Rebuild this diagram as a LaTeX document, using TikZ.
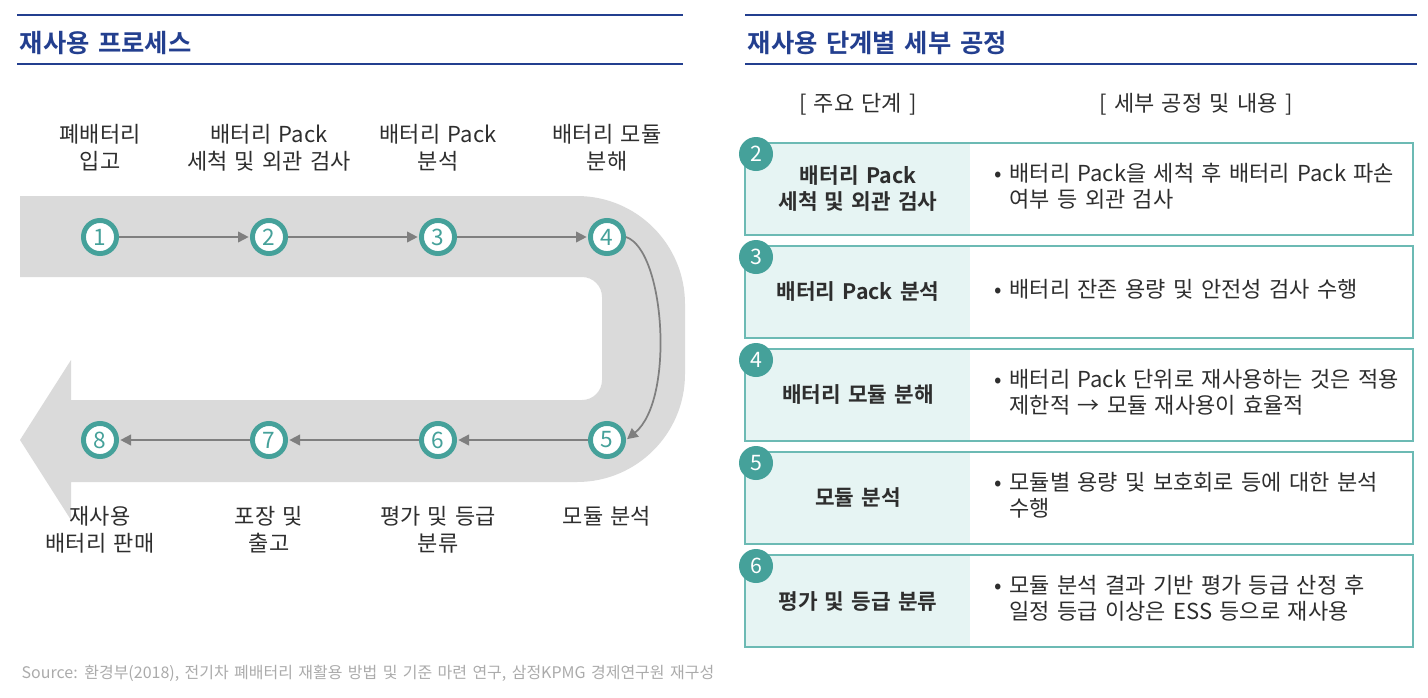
\documentclass[tikz,border=0pt]{standalone}
\usepackage{fontspec}
\setmainfont{Noto Sans CJK KR}[BoldFont={Noto Sans CJK KR Bold},WordSpace=1.5]
\usetikzlibrary{arrows.meta}
\definecolor{ttlblue}{HTML}{233F8F}
\definecolor{tealring}{HTML}{45A19A}
\definecolor{boxline}{HTML}{6CBAB4}
\definecolor{cellfill}{HTML}{E6F4F3}
\definecolor{bandgray}{HTML}{DADADA}
\definecolor{flowgray}{HTML}{7F7F7F}
\definecolor{txtgray}{HTML}{2E2E2E}
\definecolor{srcgray}{HTML}{ABABAB}
\begin{document}
\begin{tikzpicture}[x=0.75pt,y=-0.75pt,font=\fontsize{16.5pt}{20.25pt}\selectfont,text=txtgray,
  num/.style={circle,draw=tealring,line width=3.7pt,fill=white,minimum size=24.8pt,inner sep=0pt,text=tealring,font=\fontsize{17pt}{17pt}\selectfont},
  badge/.style={circle,fill=tealring,minimum size=25.5pt,inner sep=0pt,text=white,font=\fontsize{16pt}{16pt}\selectfont},
  flow/.style={draw=flowgray,line width=1.3pt,-{Triangle[length=8pt,width=8pt]},shorten >=1pt},
  ttl/.style={anchor=base west,text=ttlblue,font=\fontsize{19pt}{21pt}\selectfont\bfseries},
  ttlline/.style={draw=ttlblue,line width=2.2pt},
  lbl/.style={align=center},
  keytxt/.style={align=center,font=\fontsize{16pt}{19.5pt}\selectfont\bfseries},
  desc/.style={anchor=west,align=left,font=\fontsize{16.5pt}{19.5pt}\selectfont}]
\useasboundingbox (0,0) rectangle (1428,697);
% titles
\draw[ttlline] (17,15) -- (683,15) (17,64) -- (683,64);
\draw[ttlline] (745,15) -- (1417,15) (745,64) -- (1417,64);
\node[ttl] (ttlL) at (15,52) {재사용 프로세스};
\node[ttl] (ttlR) at (743,52) {재사용 단계별 세부 공정};
% band
\fill[bandgray] (20,196) -- (577,196) arc[start angle=-90,end angle=0,radius=108] -- (685,374) arc[start angle=0,end angle=90,radius=108]
  -- (71,482) -- (71,520) -- (20,440) -- (71,360) -- (71,400) -- (582,400) arc[start angle=90,end angle=0,radius=20]
  -- (602,297) arc[start angle=0,end angle=-90,radius=20] -- (20,277) -- cycle;
% steps
\foreach\i/\x/\y in{1/100/237,2/269/237,3/438/237,4/607/237,5/607/440,6/438/440,7/269/440,8/100/440}{\node[num](s\i)at(\x,\y){\i};}
\foreach\a/\b in{1/2,2/3,3/4,5/6,6/7,7/8}{\draw[flow](s\a)--(s\b);}
\draw[flow](s4.east) .. controls (665,250) and (675,400) .. (s5.east);
\foreach\i/\txt in{1/{폐배터리\\입고},2/{배터리 Pack\\세척 및 외관 검사},3/{배터리 Pack\\분석},4/{배터리 모듈\\분해}}{\node[lbl,anchor=south](l\i)at([yshift=46pt]s\i.center){\txt};}
\foreach\i/\txt in{5/{모듈 분석},6/{평가 및 등급\\분류},7/{포장 및\\출고},8/{재사용\\배터리 판매}}{\node[lbl,anchor=north](l\i)at([yshift=-46pt]s\i.center){\txt};}
% table
\node[lbl](hdKey)at(858,104){[ 주요 단계 ]};\node[lbl](hdDesc)at(1196,104){[ 세부 공정 및 내용 ]};
\foreach\t/\n/\main/\desc in{143/2/{배터리 Pack\\세척 및 외관 검사}/{배터리 Pack을 세척 후 배터리 Pack 파손\\여부 등 외관 검사},
  246/3/{배터리 Pack 분석}/{배터리 잔존 용량 및 안전성 검사 수행},
  349/4/{배터리 모듈 분해}/{배터리 Pack 단위로 재사용하는 것은 적용\\제한적 → 모듈 재사용이 효율적},
  452/5/{모듈 분석}/{모듈별 용량 및 보호회로 등에 대한 분석\\수행},
  555/6/{평가 및 등급 분류}/{모듈 분석 결과 기반 평가 등급 산정 후\\일정 등급 이상은 ESS 등으로 재사용}}{
  \fill[cellfill](745,\t)rectangle(970,\t+92);
  \draw[boxline,line width=1.5pt](745,\t)rectangle(1413,\t+92);
  \node[keytxt](key\n)at(858,\t+46){\main};
  \node[desc](desc\n)at(990,\t+46){•\ \begin{tabular}[t]{@{}l@{}}\desc\end{tabular}};
  \node[badge](b\n)at(756,\t+11){\n};}
% source
\node[anchor=base west,text=srcgray,font=\fontsize{12pt}{13pt}\selectfont](src)at(17,678){Source: 환경부(2018), 전기차 폐배터리 재활용 방법 및 기준 마련 연구, 삼정KPMG 경제연구원 재구성};
\end{tikzpicture}
\end{document}
